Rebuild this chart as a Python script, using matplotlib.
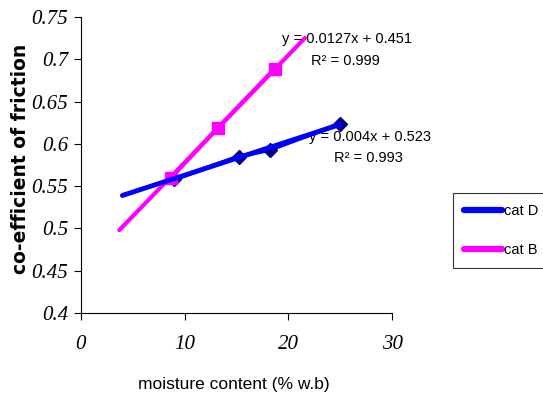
import numpy as np
import matplotlib.pyplot as plt
from matplotlib.lines import Line2D

# Measured data
moist_d = [9.0, 15.2, 18.2, 25.0]
cof_d = [0.558, 0.585, 0.593, 0.624]
moist_b = [8.7, 13.2, 18.7]
cof_b = [0.560, 0.619, 0.689]

# Trendline coefficients (as printed on the chart)
slope_d, icpt_d, r2_d = 0.004, 0.523, 0.993
slope_b, icpt_b, r2_b = 0.0127, 0.451, 0.999
trend_d_x = [4.0, 25.0]
trend_b_x = [3.7, 21.6]

xticks = [0, 10, 20, 30]
yticks = [0.4, 0.45, 0.5, 0.55, 0.6, 0.65, 0.7, 0.75]
ytick_labels = ["0.4", "0.45", "0.5", "0.55", "0.6", "0.65", "0.7", "0.75"]

blue = "#0000ff"
navy = "#000080"
magenta = "#ff00ff"

fig = plt.figure(figsize=(5.43, 4.07), dpi=100)
ax = fig.add_axes([0.149, 0.231, 0.573, 0.727])

# series
ax.plot(moist_d, cof_d, color=blue, lw=3, marker="D", ms=7,
        mfc=navy, mec=navy, zorder=2)
ax.plot(moist_b, cof_b, color=magenta, lw=3, marker="s", ms=9,
        mfc=magenta, mec=magenta, zorder=3)

# trendlines
td = np.array(trend_d_x)
tb = np.array(trend_b_x)
ax.plot(td, slope_d * td + icpt_d, color=blue, lw=3.5, zorder=4,
        solid_capstyle="round")
ax.plot(tb, slope_b * tb + icpt_b, color=magenta, lw=3, zorder=3,
        solid_capstyle="round")

ax.set_xlim(0, 30)
ax.set_ylim(0.4, 0.75)
ax.spines["top"].set_visible(False)
ax.spines["right"].set_visible(False)
ax.spines["left"].set_linewidth(0.8)
ax.spines["bottom"].set_linewidth(0.8)

tick_font = dict(family="Liberation Serif", style="italic", size=15)
ax.set_xticks(xticks)
ax.set_xticklabels([str(t) for t in xticks], fontdict=tick_font)
ax.set_yticks(yticks)
ax.set_yticklabels(ytick_labels, fontdict=tick_font)
ax.tick_params(axis="both", direction="out", length=5, width=0.8)
ax.tick_params(axis="x", pad=11)
ax.tick_params(axis="y", pad=4)

fig.text(0.037, 0.61, "co-efficient of friction", rotation=90,
         ha="center", va="center", fontsize=13.5, fontweight="bold",
         family="DejaVu Sans")
fig.text(0.43, 0.055, "moisture content (% w.b)", ha="center", va="center",
         fontsize=12.5, family="Liberation Sans")

eq_font = dict(fontsize=10.5, family="Liberation Sans")
ax.text(19.4, 0.7235, "y = 0.0127x + 0.451", ha="left", va="center", **eq_font)
ax.text(22.2, 0.6975, "R² = 0.999", ha="left", va="center", **eq_font)
ax.text(22.0, 0.6085, "y = 0.004x + 0.523", ha="left", va="center", **eq_font)
ax.text(24.4, 0.5835, "R² = 0.993", ha="left", va="center", **eq_font)

handles = [Line2D([], [], color=blue, lw=4.5, solid_capstyle="round"),
           Line2D([], [], color=magenta, lw=4.5, solid_capstyle="round")]
leg = fig.legend(handles, ["cat D", "cat B"], loc="upper left",
                 bbox_to_anchor=(0.834, 0.526), frameon=True, fancybox=False,
                 edgecolor="black", handlelength=2.6, handletextpad=0.15,
                 labelspacing=1.75, borderpad=0.75, borderaxespad=0,
                 prop=dict(size=10.5, family="Liberation Sans"))
leg.get_frame().set_linewidth(0.8)

fig.savefig("out.png", dpi=100)
